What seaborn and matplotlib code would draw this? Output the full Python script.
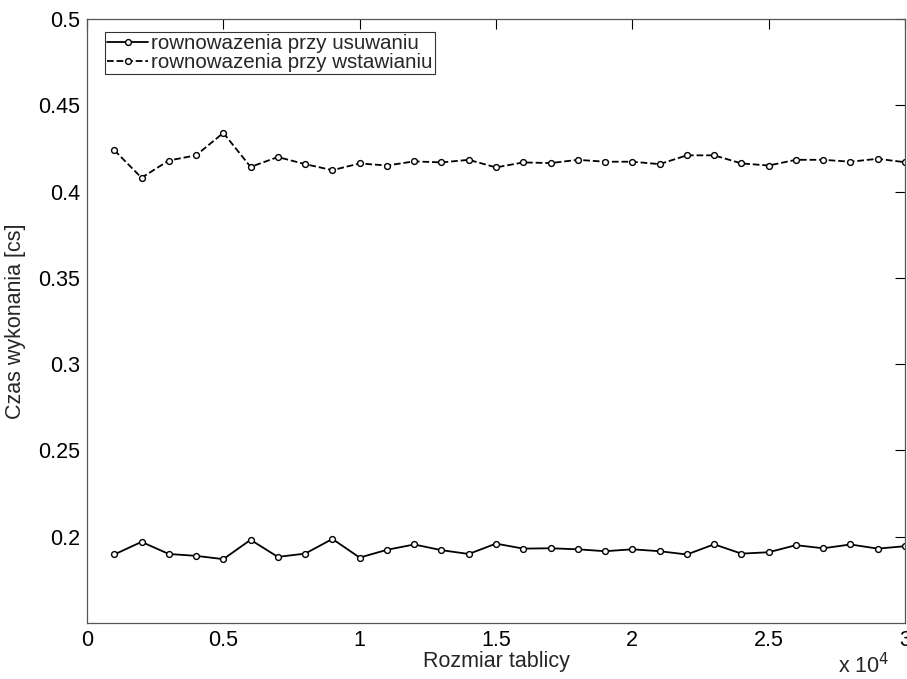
import numpy as np
import pandas as pd
import matplotlib
matplotlib.use("Agg")
import matplotlib.pyplot as plt
from matplotlib.ticker import FuncFormatter
import seaborn as sns

# Data
rozmiar = list(range(1000, 31000, 1000))
usuwanie = [0.1897, 0.1970, 0.1900, 0.1889, 0.1870, 0.1982, 0.1883, 0.1902, 0.1987, 0.1879,
            0.1924, 0.1955, 0.1922, 0.1900, 0.1960, 0.1931, 0.1933, 0.1927, 0.1916, 0.1927,
            0.1916, 0.1897, 0.1956, 0.1902, 0.1910, 0.1951, 0.1933, 0.1955, 0.1931, 0.1945]
wstawianie = [0.4240, 0.4080, 0.4180, 0.4210, 0.4340, 0.4143, 0.4200, 0.4159, 0.4124, 0.4163,
              0.4151, 0.4175, 0.4169, 0.4184, 0.4140, 0.4169, 0.4165, 0.4184, 0.4173, 0.4173,
              0.4159, 0.4210, 0.4210, 0.4163, 0.4151, 0.4184, 0.4184, 0.4173, 0.4190, 0.4170]
labels = ["rownowazenia przy usuwaniu", "rownowazenia przy wstawianiu"]

sns.set_style("white")
plt.rcParams['font.family'] = ['Liberation Sans', 'DejaVu Sans']
FS = 15.5

fig = plt.figure(figsize=(9.07, 6.79), dpi=100)
ax = fig.add_axes([87 / 907, 1 - 623 / 679, (905 - 87) / 907, (623 - 19) / 679])

marker_kw = dict(marker='o', markersize=4.2, markerfacecolor='white',
                 markeredgecolor='black', markeredgewidth=1.0)
sns.lineplot(x=rozmiar, y=usuwanie, ax=ax, color='black', linewidth=1.3,
             label=labels[0], **marker_kw)
sns.lineplot(x=rozmiar, y=wstawianie, ax=ax, color='black', linewidth=1.3,
             linestyle='--', dashes=(6, 3), label=labels[1], **marker_kw)

ax.set_xlim(0, 30000)
ax.set_ylim(0.15, 0.5)
ax.set_xticks(np.arange(0, 30001, 5000))
ax.set_yticks(np.arange(0.2, 0.501, 0.05))
ax.xaxis.set_major_formatter(FuncFormatter(lambda v, p: f"{v / 1e4:g}"))
ax.yaxis.set_major_formatter(FuncFormatter(lambda v, p: f"{v:g}"))
ax.tick_params(direction='in', length=7, width=0.8, top=True, right=True,
               labelsize=FS, colors='black', pad=5)
for s in ax.spines.values():
    s.set_color('#555555')
    s.set_linewidth(0.9)

ax.set_xlabel("Rozmiar tablicy", fontsize=FS)
ax.set_ylabel("Czas wykonania [cs]", fontsize=FS)
ax.xaxis.set_label_coords(0.5, -0.046)
ax.yaxis.set_label_coords(-0.074, 0.5)
fig.text(838 / 907, 1 - 673 / 679, "x 10$^{4}$", fontsize=FS, va='baseline', ha='left')

leg = ax.legend(loc='upper left', bbox_to_anchor=(18 / 818, 1 - 13 / 604), fontsize=14.8,
                frameon=True, fancybox=False, handlelength=2.0, handletextpad=0.15,
                borderpad=0.1, labelspacing=0.0, borderaxespad=0)
leg.get_frame().set_edgecolor('black')
leg.get_frame().set_linewidth(0.8)

fig.savefig("out.png", dpi=100)
